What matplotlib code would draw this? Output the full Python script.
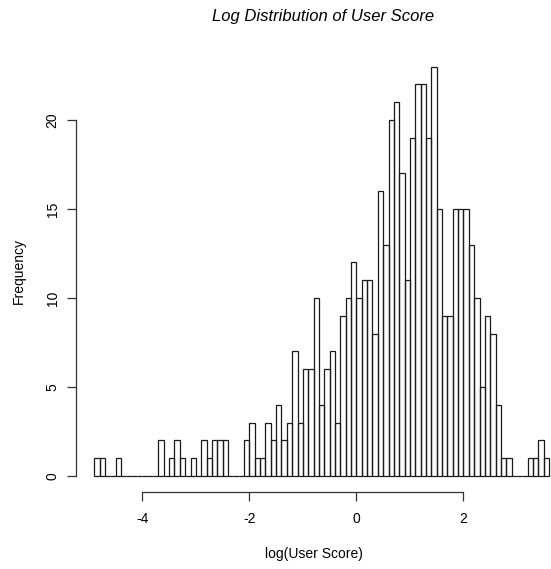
import numpy as np
import matplotlib
matplotlib.use('Agg')
from matplotlib import pyplot as plt

# histogram of log(User Score), bins of 0.1 starting at -4.9
bin_start = -4.9
bin_width = 0.1
counts = [1, 1, 0, 0, 1, 0, 0, 0, 0, 0, 0, 0,
          2, 0, 1, 2, 1, 0, 1, 0, 2, 1, 2, 2, 2, 0, 0, 0,
          2, 3, 1, 1, 3, 2, 4, 2, 3, 7, 3, 6, 6, 10, 4, 6, 7, 3,
          9, 10, 12, 10, 11, 11, 8, 16, 13, 20, 21, 17, 11, 19, 22, 22, 19, 23,
          15, 9, 9, 15, 15, 15, 13, 10, 5, 9, 8, 4, 1, 1, 0, 0, 0, 1, 1, 2, 1]
x_ticks = [-4, -2, 0, 2]
y_ticks = [0, 5, 10, 15, 20]

plt.rcParams['font.family'] = ['Liberation Sans', 'DejaVu Sans']
plt.rcParams['axes.unicode_minus'] = False

W, H = 551, 569
fig = plt.figure(figsize=(W / 100, H / 100), dpi=100)
ax = fig.add_axes([76 / W, 1 - 492.4 / H, 1 - 76 / W, (492.4 - 50.2) / H])

lefts = bin_start + bin_width * np.arange(len(counts))
ax.bar(lefts, counts, width=bin_width, align='edge', fill=False,
       edgecolor='#1a1a1a', linewidth=0.9)

ax.set_xlim(-5.24, 3.636)
ax.set_ylim(-0.92, 23.92)

for side in ['top', 'right']:
    ax.spines[side].set_visible(False)
ax.spines['bottom'].set_bounds(x_ticks[0], x_ticks[-1])
ax.spines['left'].set_bounds(y_ticks[0], y_ticks[-1])
for side in ['bottom', 'left']:
    ax.spines[side].set_color('#333333')
    ax.spines[side].set_linewidth(0.9)

ax.set_xticks(x_ticks)
ax.set_xticklabels([str(v) for v in x_ticks])
ax.set_yticks(y_ticks)
ax.set_yticklabels([str(v) for v in y_ticks], rotation=90, va='center')
ax.tick_params(axis='both', length=6.8, width=0.9, color='#333333', labelsize=10)
ax.tick_params(axis='x', pad=7.5)
ax.tick_params(axis='y', pad=5)

ax.set_xlabel('log(User Score)', fontsize=10, labelpad=15)
ax.set_ylabel('Frequency', fontsize=10, labelpad=14)

fig.text(323 / W, 1 - 17 / H, 'Log Distribution of User Score', fontsize=12,
         style='italic', ha='center', va='center')

fig.savefig('out.png', dpi=100)
